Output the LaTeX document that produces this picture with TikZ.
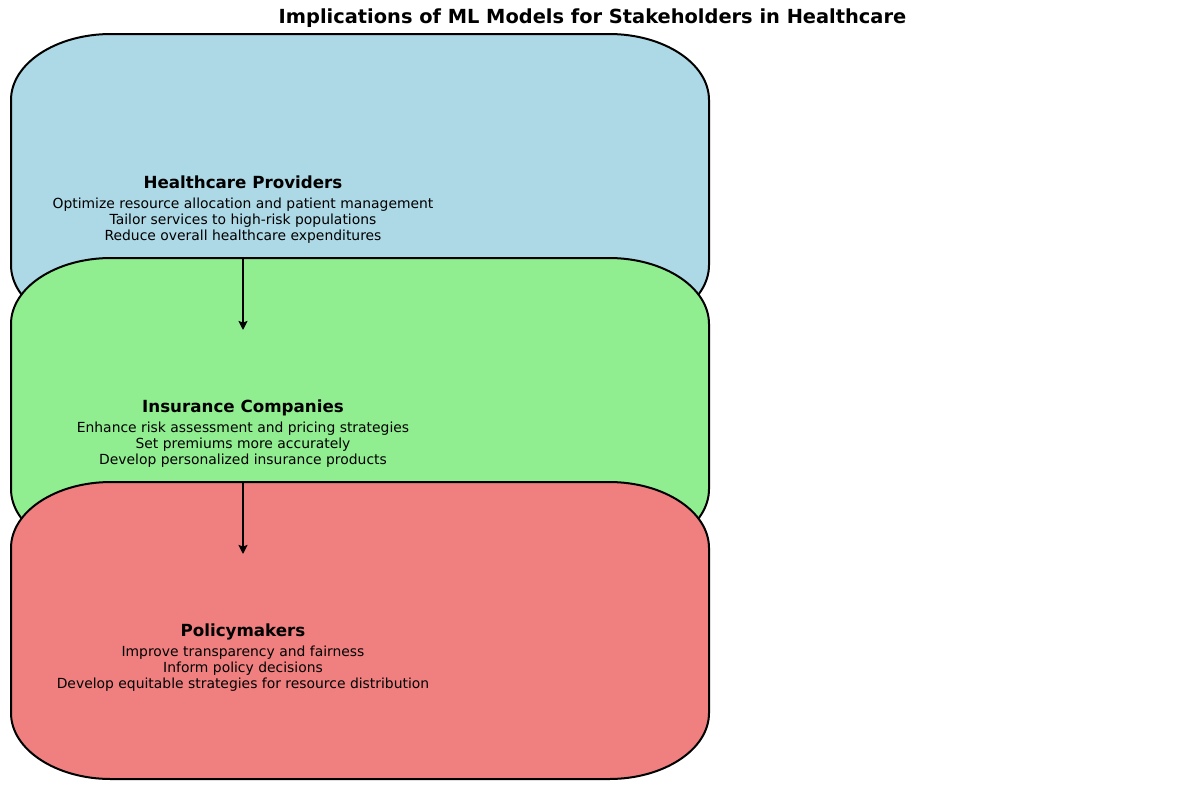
\documentclass[tikz,border=0pt]{standalone}
\usepackage{fontspec}
\setmainfont{DejaVu Sans}
\usetikzlibrary{arrows.meta,positioning}
\definecolor{provblue}{RGB}{173,216,230}
\definecolor{insgreen}{RGB}{144,238,144}
\definecolor{polcoral}{RGB}{240,128,128}

\begin{document}
\begin{tikzpicture}[x=1pt,y=-1pt,>={Stealth[length=9pt,width=9pt,inset=1.5pt]},
 every node/.style={inner sep=0pt},
 head/.style={font=\fontsize{16.7}{20}\selectfont\bfseries,anchor=base},
 body/.style={font=\fontsize{13.9}{16}\selectfont,align=center},
 card/.style={draw=black,line width=2pt}]
\useasboundingbox (0,0) rectangle (1185,790);
\node[font=\fontsize{19.4}{23}\selectfont\bfseries](title)at(592.5,18)
 {Implications of ML Models for Stakeholders in Healthcare};
\foreach \n/\y/\c/\h/\t in {
 prov/34/provblue/Healthcare Providers/{Optimize resource allocation and patient management\\Tailor services to high-risk populations\\Reduce overall healthcare expenditures},
 ins/258/insgreen/Insurance Companies/{Enhance risk assessment and pricing strategies\\Set premiums more accurately\\Develop personalized insurance products},
 pol/482/polcoral/Policymakers/{Improve transparency and fairness\\Inform policy decisions\\Develop equitable strategies for resource distribution}}
{
 % box with elliptic corners
 \draw[card,fill=\c] (111,\y) -- (609,\y)
  .. controls (664,\y) and (709,\y+29.5) .. (709,\y+66) -- (709,\y+231)
  .. controls (709,\y+267.5) and (664,\y+297) .. (609,\y+297) -- (111,\y+297)
  .. controls (56,\y+297) and (11,\y+267.5) .. (11,\y+231) -- (11,\y+66)
  .. controls (11,\y+29.5) and (56,\y) .. (111,\y) -- cycle;
 \node[head](head-\n)at(243,\y+154){\h};
 \node[body](txt-\n)at(243,\y+187){\t};
 \coordinate (top-\n) at (243,\y);
 \coordinate (tip-\n) at (243,\y+72);
}
\draw[->,line width=2pt](top-ins)--(tip-ins);
\draw[->,line width=2pt](top-pol)--(tip-pol);
\end{tikzpicture}
\end{document}
